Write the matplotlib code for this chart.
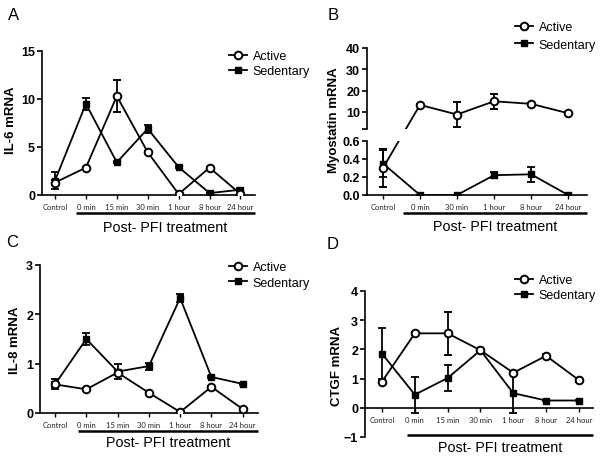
import numpy as np
import matplotlib.pyplot as plt
from matplotlib.lines import Line2D
import matplotlib.transforms as mtransforms

plt.rcParams['font.family'] = ['Liberation Sans', 'DejaVu Sans']

# ---- data ----
cats_7 = ['Control', '0 min', '15 min', '30 min', '1 hour', '8 hour', '24 hour']
cats_6 = ['Control', '0 min', '30 min', '1 hour', '8 hour', '24 hour']

# A: IL-6
il6_act = [1.3, 2.85, 10.3, 4.45, 0.1, 2.85, 0.1]
il6_act_err = [0.3, 0.1, 1.65, 0.1, 0.05, 0.1, 0.05]
il6_sed = [1.5, 9.5, 3.4, 6.9, 2.9, 0.2, 0.55]
il6_sed_err = [0.85, 0.6, 0.1, 0.4, 0.1, 0.05, 0.15]

# B: myostatin (broken axis)
myo_act = [0.3, 13.3, 8.8, 15.0, 13.8, 9.4]
myo_act_err = [0.21, 0.3, 5.7, 3.5, 0.3, 0.3]
myo_sed = [0.35, 0.0, 0.0, 0.22, 0.23, 0.0]
myo_sed_err = [0.15, 0.0, 0.0, 0.035, 0.08, 0.0]

# C: IL-8
il8_act = [0.58, 0.48, 0.82, 0.41, 0.02, 0.53, 0.08]
il8_act_err = [0.05, 0.02, 0.05, 0.02, 0.02, 0.02, 0.02]
il8_sed = [0.58, 1.5, 0.84, 0.95, 2.33, 0.73, 0.59]
il8_sed_err = [0.1, 0.13, 0.15, 0.07, 0.08, 0.02, 0.02]

# D: CTGF
ctgf_act = [0.9, 2.55, 2.55, 1.97, 1.2, 1.78, 0.95]
ctgf_act_err = [0.05, 0.05, 0.74, 0.05, 0.05, 0.05, 0.05]
ctgf_sed = [1.85, 0.45, 1.02, 1.97, 0.5, 0.25, 0.25]
ctgf_sed_err = [0.87, 0.62, 0.45, 0.05, 0.68, 0.03, 0.03]

W, H = 604, 460
fig = plt.figure(figsize=(W / 100, H / 100), dpi=100)


def px_axes(left, right, top, bottom):
    ax = fig.add_axes([left / W, 1 - bottom / H, (right - left) / W, (bottom - top) / H])
    ax.patch.set_visible(False)
    return ax


def style(ax, xlabels=None):
    for s in ['top', 'right']:
        ax.spines[s].set_visible(False)
    for s in ['left', 'bottom']:
        ax.spines[s].set_linewidth(1.2)
    ax.tick_params(axis='y', length=3.5, width=1.2, labelsize=9, pad=1.5)
    ax.tick_params(axis='x', length=3, width=1.0, pad=3)
    for t in ax.get_yticklabels():
        t.set_fontweight('bold')
    if xlabels is not None:
        ax.set_xticks(np.arange(len(xlabels)))
        ax.set_xticklabels(xlabels, fontsize=5.5, family='Lato', color='#222222')


def series(ax, y, err, marker, clip=True):
    x = np.arange(len(y))
    if marker == 'o':
        ax.errorbar(x, y, yerr=err, color='black', lw=1.3, elinewidth=1.3, capsize=3,
                    capthick=1.3, marker='o', ms=5.5, mfc='white', mec='black', mew=1.4,
                    zorder=4, clip_on=clip)
    else:
        ax.errorbar(x, y, yerr=err, color='black', lw=1.3, elinewidth=1.3, capsize=3,
                    capthick=1.3, marker='s', ms=4.5, mfc='black', mec='black',
                    zorder=3, clip_on=clip)


def underline(ax, x0, yfrac, text_y_px, xmax):
    tr = mtransforms.blended_transform_factory(ax.transData, ax.transAxes)
    ax.plot([x0, xmax], [yfrac, yfrac], transform=tr, color='black', lw=1.8,
            clip_on=False, solid_capstyle='butt')
    xc = (x0 + xmax) / 2
    xd = tr.transform((xc, 0))[0]
    fig.text(xd / fig.dpi / fig.get_figwidth(), 1 - text_y_px / H, 'Post- PFI treatment',
             ha='center', va='center', fontsize=10.3)


def legend(ax, x_px, y_px, spacing):
    h1 = Line2D([], [], color='black', lw=1.3, marker='o', ms=5.5, mfc='white', mew=1.4)
    h2 = Line2D([], [], color='black', lw=1.3, marker='s', ms=4.5)
    ax.legend([h1, h2], ['Active', 'Sedentary'], loc='upper left',
              bbox_to_anchor=(x_px / W, 1 - y_px / H), bbox_transform=fig.transFigure,
              frameon=False, fontsize=9, handlelength=1.4, handletextpad=0.5,
              borderpad=0, borderaxespad=0, labelspacing=spacing)


def ylab(text, x_px, y_px):
    fig.text(x_px / W, 1 - y_px / H, text, rotation=90, fontsize=9.5,
             fontweight='bold', ha='center', va='center')


# ---------------- A ----------------
axA = px_axes(42, 255, 52, 196)
series(axA, il6_sed, il6_sed_err, 's')
series(axA, il6_act, il6_act_err, 'o')
axA.set_xlim(-0.42, 6.47)
axA.set_ylim(0, 15)
axA.set_yticks([0, 5, 10, 15])
style(axA, cats_7)
ylab('IL-6 mRNA', 11, 120)
underline(axA, 0.68, -0.125, 228, 6.47)
legend(axA, 229, 51, 0.28)
fig.text(14 / W, 1 - 15 / H, 'A', fontsize=12, ha='center', va='center')

# ---------------- B ----------------
axBl = px_axes(367, 587, 142, 196)
axBu = px_axes(367, 587, 49, 130)
xl = (-0.43, 5.51)
axBl.set_xlim(*xl)
axBu.set_xlim(*xl)
axBl.set_ylim(0, 0.6)
axBu.set_ylim(2, 40)
series(axBl, myo_sed, myo_sed_err, 's')
xb = np.arange(len(myo_act))
# active control point lives on the lower segment, rest on upper
axBl.errorbar(xb[:1], myo_act[:1], yerr=myo_act_err[:1], color='black', lw=1.3,
              elinewidth=1.3, capsize=3, capthick=1.3, marker='o', ms=5.5, mfc='white',
              mec='black', mew=1.4, zorder=4, clip_on=False)
axBu.errorbar(xb[1:], myo_act[1:], yerr=myo_act_err[1:], color='black', lw=1.3,
              elinewidth=1.3, capsize=3, capthick=1.3, marker='o', ms=5.5, mfc='white',
              mec='black', mew=1.4, zorder=4, clip_on=False)
# connecting segment across the break, straight in screen space
p0 = axBl.transData.transform((xb[0], myo_act[0]))
p1 = axBu.transData.transform((xb[1], myo_act[1]))
for a in (axBl, axBu):
    d = a.transData.inverted().transform([p0, p1])
    a.plot(d[:, 0], d[:, 1], color='black', lw=1.3, zorder=2)
axBl.set_yticks([0, 0.2, 0.4, 0.6])
axBl.set_yticklabels(['0.0', '0.2', '0.4', '0.6'])
axBu.set_yticks([10, 20, 30, 40])
axBu.set_yticks([2], minor=True)
axBu.tick_params(axis='y', which='minor', length=3.5, width=1.2)
style(axBl, cats_6)
style(axBu)
axBu.spines['bottom'].set_visible(False)
axBu.set_xticks([])
ylab('Myostatin mRNA', 334, 120)
underline(axBl, 0.54, -0.333, 227, 5.51)
legend(axBu, 515, 22, 0.45)
fig.text(333 / W, 1 - 15 / H, 'B', fontsize=12, ha='center', va='center')

# ---------------- C ----------------
axC = px_axes(40, 258, 266, 414)
series(axC, il8_sed, il8_sed_err, 's')
series(axC, il8_act, il8_act_err, 'o')
axC.set_xlim(-0.48, 6.49)
axC.set_ylim(0, 3)
axC.set_yticks([0, 1, 2, 3])
style(axC, cats_7)
ylab('IL-8 mRNA', 15, 340)
underline(axC, 0.73, -0.12, 443, 6.49)
legend(axC, 229, 262, 0.28)
fig.text(12 / W, 1 - 243 / H, 'C', fontsize=12, ha='center', va='center')

# ---------------- D ----------------
axD = px_axes(365, 593, 292, 438)
axD.spines['bottom'].set_position(('data', 0))
series(axD, ctgf_sed, ctgf_sed_err, 's')
series(axD, ctgf_act, ctgf_act_err, 'o')
axD.set_xlim(-0.52, 6.43)
axD.set_ylim(-1, 4)
axD.set_yticks([-1, 0, 1, 2, 3, 4])
style(axD, cats_7)
ylab('CTGF mRNA', 337, 366)
underline(axD, 0.76, 0.014, 448, 6.43)
legend(axD, 515, 275, 0.28)
fig.text(333 / W, 1 - 245 / H, 'D', fontsize=12, ha='center', va='center')

fig.savefig('out.png', dpi=100)
